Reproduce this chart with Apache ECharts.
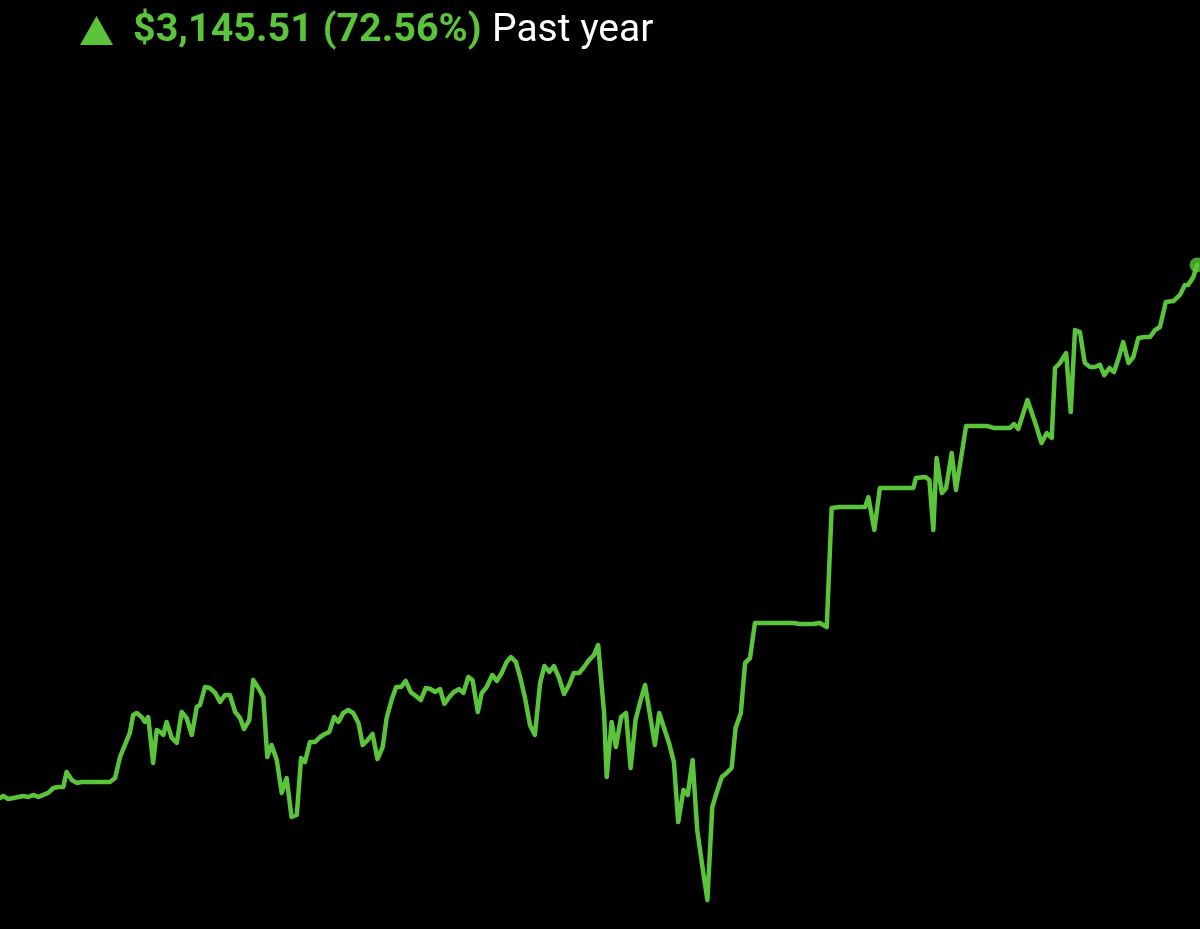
<!DOCTYPE html>
<html>
<head>
<meta charset="utf-8">
<style>
html,body{margin:0;padding:0;background:#000;}
#chart{width:1200px;height:929px;}
</style>
<script src="https://cdn.jsdelivr.net/npm/echarts@6/dist/echarts.min.js"></script>
</head>
<body>
<div id="chart"></div>
<script>
// Day of the year (0 = one year ago, 365 = today)
const days = [0,1.0,2.5,4.1,5.6,7.1,8.6,10.2,11.7,13.2,14.7,16.3,17.8,19.3,20.3,21.9,23.4,24.9,33.5,35.1,
36.6,38.1,39.6,40.6,41.7,43.2,44.2,45.2,46.7,47.8,48.8,49.8,50.8,52.4,53.9,55.4,56.9,58.5,60.0,61.0,
62.5,64.0,65.6,67.1,68.6,70.1,71.7,73.2,74.4,76.0,77.2,78.8,80.3,81.5,82.8,84.4,85.9,87.4,88.9,90.5,
91.8,93.0,94.5,96.1,97.6,99.1,100.4,101.9,103.2,104.7,106.2,107.7,109.3,110.6,112.1,113.6,115.1,116.7,117.9,119.4,
120.8,122.3,123.7,125.2,126.8,128.3,129.8,131.3,132.6,134.2,135.5,137.0,138.4,140.0,141.3,142.8,144.1,145.7,146.9,148.4,
150.1,151.5,153.0,154.5,155.8,157.3,158.6,160.1,161.6,163.1,164.7,166.0,167.5,168.9,170.5,172.0,173.5,175.0,176.6,178.1,
179.6,181.1,182.4,183.5,184.2,185.0,186.5,187.8,189.4,190.9,192.3,193.8,195.2,196.7,198.2,199.7,201.0,202.5,204.0,205.5,
206.8,208.4,209.7,211.2,212.6,214.2,215.7,217.2,218.5,220.1,221.6,223.1,224.3,225.9,227.2,228.7,230.2,235.7,241.8,243.9,
247.9,250.0,252.1,253.6,256.1,263.8,264.8,266.6,268.3,271.9,278.5,279.3,282.1,283.4,284.6,285.6,287.2,288.5,290.2,291.5,
294.6,300.9,302.9,308.0,309.2,310.5,313.3,315.6,317.6,319.2,320.7,321.7,323.2,325.1,326.5,327.8,329.3,330.8,332.4,333.9,
335.4,336.7,338.3,339.7,341.2,342.5,344.1,345.6,347.1,349.1,350.7,352.2,353.7,355.5,357.8,359.8,361.3,362.3,363.9,365.0];

// Portfolio value in dollars
const values = [4335,4347,4329,4335,4341,4347,4341,4353,4341,4353,4365,4394,4400,4400,4488,4441,4424,4429,4429,4453,
4577,4648,4719,4825,4837,4813,4784,4813,4542,4736,4725,4707,4784,4689,4660,4843,4807,4707,4872,4884,
4990,4984,4955,4902,4943,4943,4843,4807,4742,4795,5031,4984,4931,4577,4648,4559,4365,4453,4223,4235,
4571,4547,4666,4666,4695,4713,4725,4813,4784,4837,4854,4837,4778,4648,4677,4713,4565,4636,4807,4913,
4990,4990,5026,4961,4937,4913,4984,4978,4961,4978,4890,4931,4961,4978,4955,5049,5031,4843,4955,4990,
5061,5026,5073,5138,5167,5138,5049,4925,4766,4707,5014,5114,5079,5114,5043,4949,5002,5073,5073,5108,
5149,5179,5238,4990,4837,4459,4784,4636,4813,4837,4512,4795,4902,5002,4825,4648,4837,4748,4660,4547,
4193,4382,4353,4559,4146,3928,3733,4282,4365,4459,4483,4512,4748,4837,5132,5161,5368,5368,5368,5362,
5362,5368,5344,6047,6052,6052,6111,5917,6165,6165,6165,6224,6230,6212,5917,6342,6135,6165,6371,6153,
6531,6531,6519,6519,6542,6513,6684,6554,6430,6489,6460,6873,6902,6961,6613,7097,7085,6902,6879,6879,
6891,6831,6873,6849,6938,7026,6902,6938,7050,7056,7056,7097,7115,7262,7268,7304,7363,7363,7410,7481];

const headline = "$3,145.51 (72.56%)";
const periodLabel = "Past year";

const GREEN = "#5AC53A";
const points = days.map((d, i) => [d, values[i]]);
const last = points[points.length - 1];

const chart = echarts.init(document.getElementById('chart'), null, {renderer: 'canvas'});
chart.setOption({
  backgroundColor: '#000000',
  animation: false,
  grid: {left: 0, right: 3, top: 0, bottom: 0},
  xAxis: {type: 'value', min: 0, max: 365, show: false},
  yAxis: {type: 'value', min: 3561.8, max: 9044.8, show: false},
  graphic: [
    {type: 'polygon', shape: {points: [[80, 45], [113, 45], [96.5, 16]]}, style: {fill: GREEN}},
    {type: 'text', x: 133, y: 31, style: {text: headline, fill: GREEN, font: 'bold 39.5px Roboto', verticalAlign: 'middle'}},
    {type: 'text', x: 492, y: 31, style: {text: periodLabel, fill: '#ffffff', font: '39px Roboto', verticalAlign: 'middle'}}
  ],
  series: [
    {
      type: 'line', data: points, showSymbol: false, smooth: false,
      lineStyle: {color: GREEN, width: 4.5, join: 'round', cap: 'round'},
      clip: false
    },
    {
      type: 'scatter', data: [last], symbol: 'circle', symbolSize: 15,
      itemStyle: {color: GREEN}, clip: false
    }
  ]
});
</script>
</body>
</html>
